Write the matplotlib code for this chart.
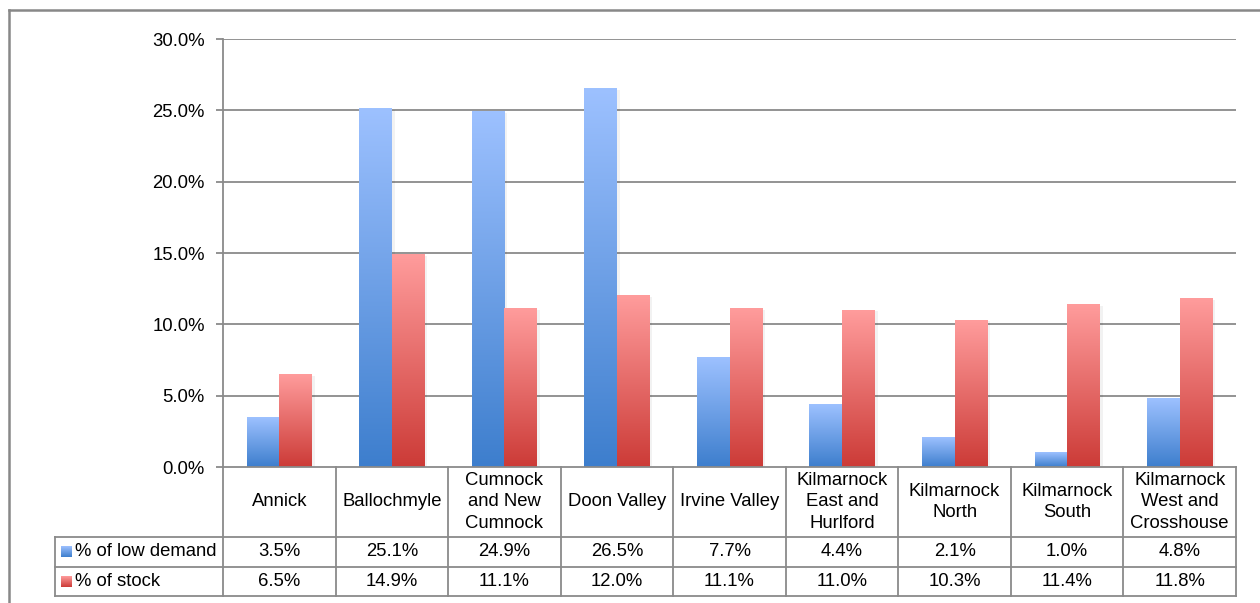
import numpy as np
import matplotlib.pyplot as plt
from matplotlib.colors import LinearSegmentedColormap
from matplotlib.lines import Line2D

plt.rcParams['font.family'] = ['Liberation Sans', 'DejaVu Sans']

# data
areas = ['Annick', 'Ballochmyle', 'Cumnock\nand New\nCumnock', 'Doon Valley',
         'Irvine Valley', 'Kilmarnock\nEast and\nHurlford', 'Kilmarnock\nNorth',
         'Kilmarnock\nSouth', 'Kilmarnock\nWest and\nCrosshouse']
low_demand = [3.5, 25.1, 24.9, 26.5, 7.7, 4.4, 2.1, 1.0, 4.8]
stock = [6.5, 14.9, 11.1, 12.0, 11.1, 11.0, 10.3, 11.4, 11.8]
series_names = ['% of low demand', '% of stock']
yticks = [0, 5, 10, 15, 20, 25, 30]

W, H = 1260, 603
fig = plt.figure(figsize=(W / 100, H / 100), dpi=100)
fs = 13.3

# pixel layout
px_left, px_right = 223, 1236
px_top, px_zero = 39, 467
tab_left, tab_bottom = 55, 596
head_h = 70
row_h = (tab_bottom - px_zero - head_h) / 2

def fx(p):
    return p / W

def fy(p):
    return 1 - p / H

grid_c = '#8a8a8a'
blue_cm = LinearSegmentedColormap.from_list('b', ['#9dc1ff', '#3d7ecd'])
red_cm = LinearSegmentedColormap.from_list('r', ['#ff9c9c', '#cc3b37'])
grad = np.linspace(0, 1, 256).reshape(-1, 1)

# outer frame
fig.add_artist(Line2D([fx(9), fx(9)], [fy(10), 0], color='#888888', lw=1.8))
fig.add_artist(Line2D([fx(9), 1], [fy(10), fy(10)], color='#888888', lw=1.8))

ax = fig.add_axes([fx(px_left), fy(px_zero), fx(px_right - px_left), (px_zero - px_top) / H])
n = len(areas)
bw = 0.29
for i in range(n):
    for j, (vals, cm) in enumerate([(low_demand, blue_cm), (stock, red_cm)]):
        x0 = i + 0.5 - bw + j * bw
        v = vals[i]
        ax.add_patch(plt.Rectangle((x0 + 0.025, 0), bw, v - 0.1, color='#000000',
                                   alpha=0.05, lw=0, zorder=2))
        ax.imshow(grad, cmap=cm, extent=[x0, x0 + bw, 0, v], origin='upper',
                  aspect='auto', zorder=3, interpolation='bilinear')
ax.set_xlim(0, n)
ax.set_ylim(0, 30)
ax.set_yticks(yticks)
ax.set_yticklabels(['%.1f%%' % t for t in yticks], fontsize=fs)
ax.set_xticks([])
for t in yticks[1:]:
    ax.axhline(t, color=grid_c, lw=1.3, zorder=1)
for s in ['top', 'right', 'bottom']:
    ax.spines[s].set_visible(False)
ax.spines['left'].set_color(grid_c)
ax.spines['left'].set_linewidth(1.3)
ax.tick_params(axis='y', length=5, color=grid_c, width=1.3, pad=8)

# data table
cat_w = (px_right - px_left) / n
tab = fig.add_axes([fx(tab_left), fy(tab_bottom), fx(px_right - tab_left), (tab_bottom - px_zero) / H])
tx0 = -(px_left - tab_left) / cat_w
tab.axis('off')
lk = dict(color=grid_c, lw=1.3, clip_on=False)
tab.plot([0, n], [0, 0], **lk)
for r in [head_h, head_h + row_h, head_h + 2 * row_h]:
    tab.plot([tx0, n], [r, r], **lk)
for i in range(n + 1):
    tab.plot([i, i], [0, head_h + 2 * row_h], **lk)
tab.plot([tx0, tx0], [head_h, head_h + 2 * row_h], **lk)

for i, a in enumerate(areas):
    tab.text(i + 0.5, head_h / 2, a, ha='center', va='center', fontsize=fs,
             linespacing=1.38)
    tab.text(i + 0.5, head_h + row_h / 2, '%.1f%%' % low_demand[i], ha='center',
             va='center', fontsize=fs)
    tab.text(i + 0.5, head_h + 1.5 * row_h, '%.1f%%' % stock[i], ha='center',
             va='center', fontsize=fs)

key_w = 11 / cat_w
for k, (name, cm) in enumerate(zip(series_names, [blue_cm, red_cm])):
    yc = head_h + (k + 0.5) * row_h
    kx = tx0 + 6 / cat_w
    tab.imshow(grad, cmap=cm, extent=[kx, kx + key_w, yc + 5.5, yc - 5.5],
               origin='upper', aspect='auto', clip_on=False)
    tab.text(kx + key_w + 3 / cat_w, yc, name, ha='left', va='center', fontsize=fs)
tab.set_xlim(tx0, n)
tab.set_ylim(tab_bottom - px_zero, 0)

fig.savefig('out.png', dpi=100)
